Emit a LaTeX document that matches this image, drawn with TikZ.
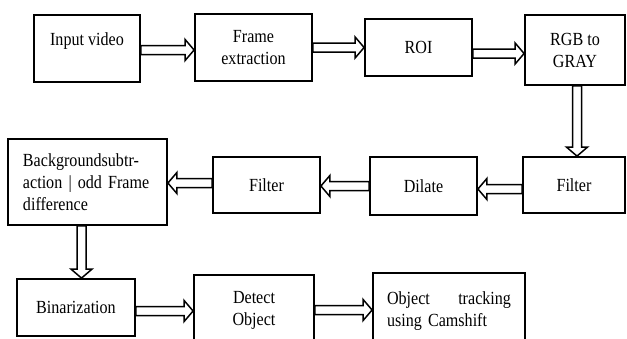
\documentclass[tikz,border=0pt]{standalone}
\usepackage{fontspec}
\setmainfont[FakeStretch=0.87]{Liberation Serif}
\usetikzlibrary{calc}
\newcommand\harr[2]{%
  \draw[arrline] ($(#1)!4.5pt!90:(#2)$) -- ($(#2)!9pt!(#1)!4.5pt!-90:(#1)$)
    -- ($(#2)!9pt!(#1)!10.5pt!-90:(#1)$) -- (#2)
    -- ($(#2)!9pt!(#1)!10.5pt!90:(#1)$) -- ($(#2)!9pt!(#1)!4.5pt!90:(#1)$)
    -- ($(#1)!4.5pt!-90:(#2)$) -- cycle;}
\begin{document}
\begin{tikzpicture}[x=1pt,y=-1pt,
  box/.style={draw=black,line width=1.8pt,rectangle,inner sep=0pt,align=center,
    font=\fontsize{18.5}{22}\selectfont},
  arrline/.style={draw=black,fill=white,line width=1.5pt,line join=miter}]
\useasboundingbox (0,0) rectangle (627,338);
\clip (0,0) rectangle (627,338);
\node[box,minimum width=106pt,minimum height=67pt,text depth=18pt] (inp) at (87,48.5) {Input video};
\node[box,minimum width=117pt,minimum height=67pt] (fe) at (253.5,47.5) {Frame\\extraction};
\node[box,minimum width=107pt,minimum height=57pt] (roi) at (418.5,47.5) {ROI};
\node[box,minimum width=100pt,minimum height=70pt] (rgb) at (575,50) {RGB to\\GRAY};
\node[box,minimum width=102pt,minimum height=56pt] (fil1) at (574,185) {Filter};
\node[box,minimum width=107pt,minimum height=58pt] (dil) at (423.5,186) {Dilate};
\node[box,minimum width=107pt,minimum height=56pt] (fil2) at (266.5,185) {Filter};
\node[box,minimum width=159pt,minimum height=86pt,text width=129pt,align=left] (bg) at (87.5,182)
  {Backgroundsubtr-\\action\,\,|\,\,odd Frame\\difference};
\node[box,minimum width=118pt,minimum height=57pt] (bin) at (76,307.5) {Binarization};
\node[box,minimum width=120pt,minimum height=70pt] (det) at (254,310) {Detect\\Object};
\node[box,minimum width=152pt,minimum height=77pt,text width=124pt,align=left] (obj) at (449,311.5)
  {Object\hfill tracking\\using Camshift};
\coordinate (a1s) at ([yshift=-1.5pt]inp.east);  \coordinate (a1e) at (a1s -| fe.west);
\coordinate (a2s) at (fe.east);                   \coordinate (a2e) at (a2s -| roi.west);
\coordinate (a3s) at ([yshift=-6pt]roi.east);     \coordinate (a3e) at (a3s -| rgb.west);
\coordinate (a4s) at ([xshift=2pt]rgb.south);     \coordinate (a4e) at (a4s |- fil1.north);
\coordinate (a5s) at ([yshift=-4pt]fil1.west);    \coordinate (a5e) at (a5s -| dil.east);
\coordinate (a6s) at (dil.west);                  \coordinate (a6e) at (a6s -| fil2.east);
\coordinate (a7s) at ([yshift=2pt]fil2.west);     \coordinate (a7e) at (a7s -| bg.east);
\coordinate (a8s) at ([xshift=-6pt]bg.south);     \coordinate (a8e) at (a8s |- bin.north);
\coordinate (a9s) at ([yshift=-3.5pt]bin.east);   \coordinate (a9e) at (a9s -| det.west);
\coordinate (a10s) at (det.east);                 \coordinate (a10e) at (a10s -| obj.west);
\harr{a1s}{a1e}
\harr{a2s}{a2e}
\harr{a3s}{a3e}
\harr{a4s}{a4e}
\harr{a5s}{a5e}
\harr{a6s}{a6e}
\harr{a7s}{a7e}
\harr{a8s}{a8e}
\harr{a9s}{a9e}
\harr{a10s}{a10e}
\end{tikzpicture}
\end{document}
